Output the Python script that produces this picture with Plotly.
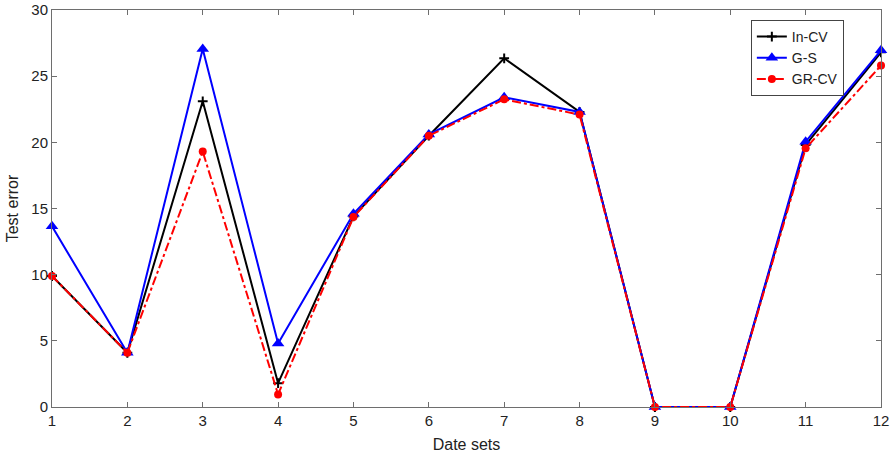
import plotly.graph_objects as go

datasets = list(range(1, 13))
in_cv = [9.9, 4.1, 23.1, 1.8, 14.4, 20.5, 26.35, 22.3, 0.0, 0.0, 19.8, 26.8]
g_s = [13.65, 4.1, 27.05, 4.8, 14.6, 20.6, 23.4, 22.3, 0.0, 0.0, 20.05, 26.95]
gr_cv = [9.9, 4.1, 19.3, 0.95, 14.35, 20.5, 23.25, 22.1, 0.0, 0.0, 19.55, 25.8]
xticks = list(range(1, 13))
yticks = [0, 5, 10, 15, 20, 25, 30]

font = "Liberation Sans, Arial, Helvetica, sans-serif"

fig = go.Figure()
fig.add_trace(go.Scatter(
    x=datasets, y=in_cv, name="In-CV", mode="lines+markers",
    line=dict(color="black", width=2),
    marker=dict(symbol="cross-thin", size=7, line=dict(color="black", width=2)),
    cliponaxis=False,
))
fig.add_trace(go.Scatter(
    x=datasets, y=g_s, name="G-S", mode="lines+markers",
    line=dict(color="#0000ff", width=2),
    marker=dict(symbol="triangle-up", size=11, color="#0000ff"),
    cliponaxis=False,
))
fig.add_trace(go.Scatter(
    x=datasets, y=gr_cv, name="GR-CV", mode="lines+markers",
    line=dict(color="#ff0000", width=2, dash="dashdot"),
    marker=dict(symbol="circle", size=8, color="#ff0000"),
    cliponaxis=False,
))

axis_common = dict(
    showline=True, linecolor="#6e6e6e", linewidth=1, mirror="ticks",
    ticks="inside", ticklen=5, tickcolor="#6e6e6e", tickwidth=1,
    showgrid=False, zeroline=False, automargin=False,
    tickfont=dict(family=font, size=15, color="#222222"),
)

fig.update_layout(
    width=893, height=457,
    margin=dict(l=52, r=12, t=10, b=50),
    paper_bgcolor="white", plot_bgcolor="white",
    font=dict(family=font, size=15, color="#222222"),
    xaxis=dict(range=[1, 12], tickvals=xticks, ticktext=[str(v) for v in xticks],
               title=dict(text="Date sets", font=dict(family=font, size=16, color="#222222"), standoff=10),
               **axis_common),
    yaxis=dict(range=[0, 30], tickvals=yticks, ticktext=[str(v) for v in yticks],
               title=dict(text="Test error", font=dict(family=font, size=16, color="#222222"), standoff=8),
               **axis_common),
    legend=dict(x=0.843, y=0.975, xanchor="left", yanchor="top",
                bordercolor="#444444", borderwidth=1, bgcolor="white",
                font=dict(family=font, size=14, color="#222222"),
                tracegroupgap=0, itemwidth=30),
    showlegend=True,
)

fig.write_html("out.html", config={"displayModeBar": False},
               post_script="document.body.style.margin='0';document.body.style.overflow='hidden';")
